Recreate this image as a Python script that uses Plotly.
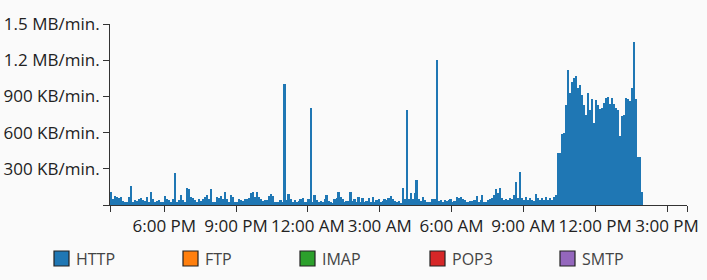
import plotly.graph_objects as go
import pandas as pd

# ---------------- data (KB per minute, 5-minute bins) ----------------
series_names = ["HTTP", "FTP", "IMAP", "POP3", "SMTP"]
series_colors = ["#1f77b4", "#ff7f0e", "#2ca02c", "#d62728", "#9467bd"]

http_kb = [
    110, 46, 75, 64, 61, 69, 37, 25, 25, 64, 158, 22, 42, 37, 46, 55, 42, 37, 69, 29,
    105, 46, 29, 37, 42, 29, 22, 75, 46, 42, 29, 46, 268, 22, 42, 83, 42, 29, 138, 135,
    64, 55, 42, 29, 46, 37, 50, 64,
    83, 46, 135, 29, 29, 69, 55, 75, 46, 105, 46, 29, 83, 64, 29, 29, 46, 42, 37, 46,
    46, 55, 97, 105, 69, 105, 64, 46, 37, 42, 42, 75, 91, 75, 29, 22, 22, 42, 29, 1000,
    42, 88, 46, 29, 42, 29, 37, 46, 55,
    22, 29, 46, 800, 29, 83, 42, 29, 37, 29, 46, 83, 37, 22, 20, 46, 55, 105, 64, 46,
    29, 37, 37, 105, 37, 50, 29, 64, 29, 55, 29, 37, 55, 22, 64, 29, 42, 46, 29, 37,
    46, 42, 55, 75, 46, 37, 29, 37, 20,
    141, 46, 790, 46, 97, 46, 102, 208, 46, 37, 69, 42, 29, 22, 29, 46, 46, 1200, 37, 42,
    29, 42, 37, 42, 46, 29, 37, 64, 55, 69, 46, 42, 29, 22, 37, 37, 42, 78, 29, 42,
    83, 22, 29, 42, 46, 55, 83, 132, 97,
    139, 55, 41, 46, 41, 55, 46, 83, 193, 55, 277, 55, 41, 69, 41, 55, 41, 33, 88, 55,
    41, 61, 41, 69, 41, 61, 41, 69, 80,
    434, 434, 587, 600, 830, 1120, 932, 1018, 1051, 1065, 968, 996, 913, 830, 747, 927, 788, 877, 683, 871,
    830, 797, 802, 849, 885, 899, 838, 890, 838, 802, 788, 573, 738, 747, 890, 880, 866, 968, 1347, 877,
    401, 401, 110,
]
ftp_kb = []
imap_kb = []
pop3_kb = []
smtp_kb = []

first_bin = "2024-01-01 15:45"
x_range = ["2024-01-01 15:44", "2024-01-02 15:50"]

y_tickvals = [0, 300, 600, 900, 1200, 1500]
y_ticktext = ["", "300 KB/min.", "600 KB/min.", "900 KB/min.", "1.2 MB/min.", "1.5 MB/min."]

x_tickvals = ["2024-01-01 15:44", "2024-01-01 18:00", "2024-01-01 21:00", "2024-01-02 00:00",
              "2024-01-02 03:00", "2024-01-02 06:00", "2024-01-02 09:00", "2024-01-02 12:00",
              "2024-01-02 15:00", "2024-01-02 15:50"]
x_ticktext = ["", "6:00 PM", "9:00 PM", "12:00 AM", "3:00 AM", "6:00 AM", "9:00 AM",
              "12:00 PM", "3:00 PM", ""]

# ---------------- figure ----------------
W, H = 707, 280
ML, MR, MT, MB = 110, 20, 24, 75
PW, PH = W - ML - MR, H - MT - MB

bin_starts = pd.date_range(first_bin, periods=len(http_kb), freq="5min")
centers = bin_starts + pd.Timedelta(minutes=2.5)

fig = go.Figure()
all_values = [http_kb, ftp_kb, imap_kb, pop3_kb, smtp_kb]
for name, col, vals in zip(series_names, series_colors, all_values):
    fig.add_trace(go.Bar(
        x=list(centers[:len(vals)]), y=vals, name=name,
        width=300000, marker=dict(color=col, line=dict(width=0)),
        showlegend=False, hoverinfo="skip",
    ))

font_family = "Open Sans, Noto Sans, sans-serif"
axis_color = "#333333"
tick_font = dict(family=font_family, size=17, color="#222222")

fig.update_layout(
    width=W, height=H,
    margin=dict(l=ML, r=MR, t=MT, b=MB, pad=0),
    paper_bgcolor="#fafafa", plot_bgcolor="#fafafa",
    barmode="stack", bargap=0,
    font=dict(family=font_family, size=16, color="#222222"),
    xaxis=dict(
        type="date", range=x_range, tickmode="array",
        tickvals=x_tickvals, ticktext=x_ticktext,
        showgrid=False, zeroline=False, automargin=False, tickangle=0,
        showline=True, linecolor=axis_color, linewidth=1,
        ticks="outside", ticklen=6, tickwidth=1, tickcolor=axis_color,
        tickfont=tick_font,
    ),
    yaxis=dict(
        range=[0, 1500], tickmode="array",
        tickvals=y_tickvals, ticktext=y_ticktext,
        showgrid=False, zeroline=False, automargin=False,
        showline=True, linecolor=axis_color, linewidth=1,
        ticks="outside", ticklen=6, tickwidth=1, tickcolor=axis_color,
        tickfont=tick_font,
    ),
)

# ---------------- custom legend ----------------
def px_x(px):
    return (px - ML) / PW

def px_y(py):
    return (H - MB - py) / PH

legend_left = [54, 183, 300, 430, 560]
sq = 15
sq_top = 251
for name, col, lx in zip(series_names, series_colors, legend_left):
    fig.add_shape(type="rect", xref="paper", yref="paper",
                  x0=px_x(lx), x1=px_x(lx + sq), y0=px_y(sq_top + sq), y1=px_y(sq_top),
                  fillcolor=col, line=dict(color="#222222", width=1.2))
    fig.add_annotation(xref="paper", yref="paper", x=px_x(lx + 20), y=px_y(sq_top + sq / 2),
                       text=name, showarrow=False, xanchor="left", yanchor="middle",
                       font=dict(family=font_family, size=16, color="#444444"))

fig.write_html("out.html")
